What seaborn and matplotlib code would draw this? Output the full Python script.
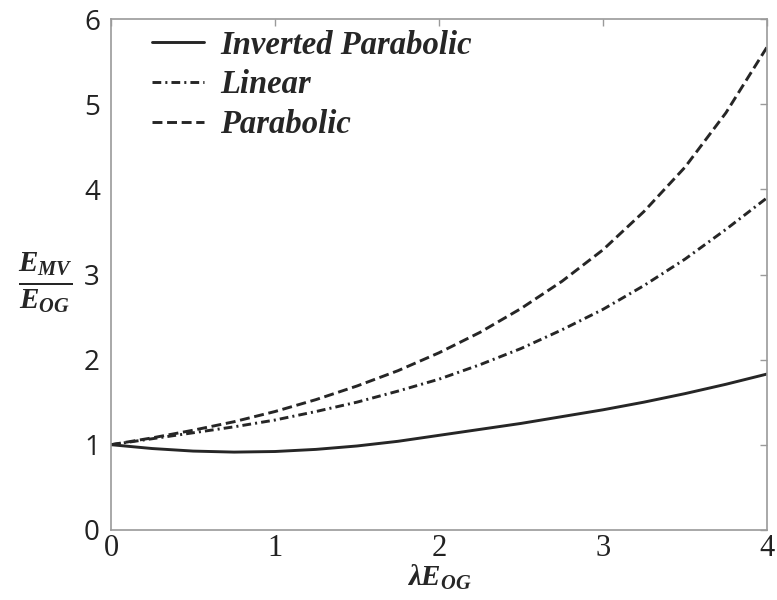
import matplotlib
matplotlib.use("Agg")
import matplotlib.pyplot as plt
import pandas as pd
import seaborn as sns

# values
lam_e = [0, 0.25, 0.5, 0.75, 1, 1.25, 1.5, 1.75, 2, 2.25, 2.5, 2.75, 3, 3.25, 3.5, 3.75, 4]
inverted_parabolic = [1.00, 0.955, 0.925, 0.913, 0.92, 0.945, 0.985, 1.04, 1.11, 1.18,
                      1.25, 1.33, 1.41, 1.50, 1.60, 1.71, 1.83]
linear = [1.00, 1.07, 1.14, 1.21, 1.29, 1.39, 1.50, 1.63, 1.77, 1.94,
          2.13, 2.35, 2.59, 2.87, 3.18, 3.53, 3.90]
parabolic = [1.00, 1.08, 1.17, 1.27, 1.39, 1.53, 1.69, 1.87, 2.08, 2.32,
             2.60, 2.92, 3.29, 3.74, 4.26, 4.90, 5.67]

series_names = ["Inverted Parabolic", "Linear", "Parabolic"]
series_vals = [inverted_parabolic, linear, parabolic]
styles = ["-", (0, (3.0, 1.4, 0.7, 1.4)), (0, (3.4, 1.6))]

sns.set_style("white")
plt.rcParams["mathtext.fontset"] = "custom"
plt.rcParams["mathtext.it"] = "Liberation Serif:italic:bold"
plt.rcParams["mathtext.rm"] = "Liberation Serif:bold"
plt.rcParams["mathtext.bf"] = "Liberation Serif:italic:bold"

fig = plt.figure(figsize=(7.77, 6.0), dpi=100)
ax = fig.add_axes([0.143, 0.117, 0.844, 0.851])

line_color = "#262626"
for name, vals, ls in zip(series_names, series_vals, styles):
    df = pd.DataFrame({"x": lam_e, "y": vals})
    sns.lineplot(data=df, x="x", y="y", ax=ax, label=name, color=line_color,
                 linewidth=2.1, linestyle=ls)

ax.set_xlim(0, 4)
ax.set_ylim(0, 6)
ax.set_xticks([0, 1, 2, 3, 4])
ax.set_yticks([0, 1, 2, 3, 4, 5, 6])

spine_color = "#9a9a9a"
for sp in ax.spines.values():
    sp.set_visible(True)
    sp.set_color(spine_color)
    sp.set_linewidth(1.2)

ax.tick_params(direction="in", length=5, width=1, color=spine_color,
               top=True, right=True, labelsize=20, labelcolor="#222222")
ax.tick_params(axis="x", pad=3)
ax.tick_params(axis="y", pad=8)
for t in ax.get_xticklabels():
    t.set_fontfamily("Liberation Serif")
    t.set_fontsize(22)
for t in ax.get_yticklabels():
    t.set_fontfamily("Open Sans")

ax.set_xlabel(r"$\lambda E_{OG}$", fontsize=21, labelpad=0)
ax.set_ylabel(r"$\frac{E_{MV}}{E_{OG}}$", fontsize=30, rotation=0, labelpad=30)
ax.yaxis.set_label_coords(-0.10, 0.42)

ax.legend(loc="upper left", bbox_to_anchor=(0.017, 1.037), frameon=False,
          prop={"family": "Liberation Serif", "weight": "bold", "style": "italic", "size": 23.5},
          handlelength=1.6, handletextpad=0.5, labelspacing=0.27)

fig.savefig("out.png", dpi=100)
